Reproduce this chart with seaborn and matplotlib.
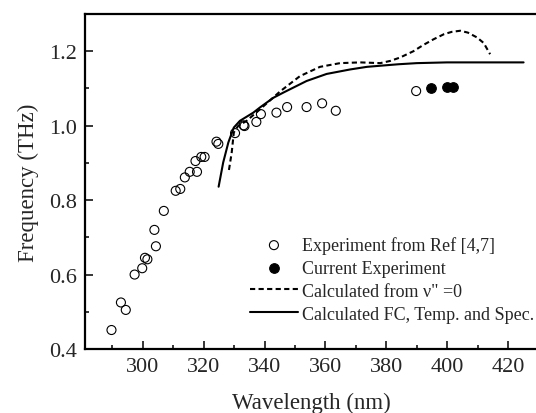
import numpy as np
import pandas as pd
import matplotlib
matplotlib.use("Agg")
import matplotlib.pyplot as plt
import seaborn as sns

# --- data ---
ref_wl = [289.7, 292.8, 294.4, 297.3, 299.8, 300.7, 301.5, 303.8, 304.3, 306.9,
          310.8, 312.3, 313.8, 315.4, 317.3, 317.8, 319.2, 320.3, 324.2, 324.8,
          330.3, 333.1, 333.4, 337.3, 338.8, 343.9, 347.4, 353.8, 358.9, 363.4, 389.8]
ref_freq = [0.451, 0.525, 0.505, 0.600, 0.617, 0.645, 0.641, 0.720, 0.676, 0.771,
            0.825, 0.830, 0.861, 0.876, 0.905, 0.876, 0.916, 0.916, 0.957, 0.951,
            0.980, 1.001, 0.999, 1.010, 1.031, 1.035, 1.050, 1.050, 1.060, 1.040, 1.093]

cur_wl = [394.8, 399.9, 401.9]
cur_freq = [1.101, 1.104, 1.104]

v0_wl = [328.3, 329.2, 329.9, 331.3, 334.1, 338.5, 345.1, 351.6, 358.2, 364.8,
         371.4, 378.0, 381.3, 384.5, 388.9, 392.0, 395.5, 399.0, 401.5, 404.3,
         406.8, 409.8, 412.0, 414.1]
v0_freq = [0.881, 0.928, 0.982, 0.999, 1.013, 1.044, 1.092, 1.133, 1.158, 1.168,
           1.170, 1.168, 1.174, 1.183, 1.200, 1.216, 1.232, 1.246, 1.252, 1.255,
           1.250, 1.237, 1.222, 1.192]

fc_wl = [324.9, 326.4, 328.1, 329.9, 331.9, 336.3, 338.5, 342.9, 346.2, 353.8,
         360.4, 368.1, 373.6, 378.0, 384.0, 390.0, 399.9, 410.0, 425.1]
fc_freq = [0.836, 0.901, 0.955, 0.995, 1.013, 1.035, 1.049, 1.075, 1.089, 1.120,
           1.139, 1.151, 1.158, 1.161, 1.165, 1.168, 1.170, 1.170, 1.170]

labels = ["Experiment from Ref [4,7]", "Current Experiment",
          'Calculated from \u03bd" =0', "Calculated FC, Temp. and Spec."]

# --- style ---
sns.set_style("ticks")
plt.rcParams["font.family"] = ["Liberation Serif", "DejaVu Serif"]
plt.rcParams["mathtext.fontset"] = "stix"

W, H = 536, 414
fig = plt.figure(figsize=(W / 100, H / 100), dpi=100)
left, right, top, bottom = 85, 538.5, 15, 350
ax = fig.add_axes([left / W, (H - bottom) / H, (right - left) / W, (bottom - top) / H])

sns.scatterplot(x=ref_wl, y=ref_freq, ax=ax, marker="o", s=42,
                facecolor="none", edgecolor="black", linewidth=0.8,
                label=labels[0], zorder=3)
sns.scatterplot(x=cur_wl, y=cur_freq, ax=ax, marker="o", s=48,
                color="black", edgecolor="black", linewidth=0.8,
                label=labels[1], zorder=3)
sns.lineplot(x=v0_wl, y=v0_freq, ax=ax, sort=False, estimator=None,
             color="black", linewidth=1.5, linestyle=(0, (2.5, 1.6)),
             label=labels[2])
sns.lineplot(x=fc_wl, y=fc_freq, ax=ax, sort=False, estimator=None,
             color="black", linewidth=1.5, label=labels[3])

ax.set_xlim(281, 430)
ax.set_ylim(0.4, 1.3)
ax.set_xticks([300, 320, 340, 360, 380, 400, 420])
ax.set_xticks(np.arange(290, 431, 10), minor=True)
ax.set_yticks([0.4, 0.6, 0.8, 1.0, 1.2])
ax.set_yticks(np.arange(0.5, 1.31, 0.1), minor=True)
ax.set_yticklabels(["0.4", "0.6", "0.8", "1.0", "1.2"])

ax.tick_params(which="both", direction="in", labelsize=16, width=1.3,
               top=False, right=False)
ax.tick_params(which="major", length=5.5, pad=6)
ax.tick_params(which="minor", length=3)
for s in ax.spines.values():
    s.set_linewidth(1.6)
    s.set_color("black")

ax.set_xlabel("Wavelength (nm)", fontsize=16.5, labelpad=11)
ax.set_ylabel("Frequency (THz)", fontsize=16.5, labelpad=7)

handles, labs = ax.get_legend_handles_labels()
order = [labs.index(l) for l in labels]
ax.legend([handles[i] for i in order], [labs[i] for i in order],
          loc="upper left", bbox_to_anchor=(250 / W, (H - 237) / H),
          bbox_transform=fig.transFigure, frameon=False, fontsize=13,
          borderpad=0, borderaxespad=0, handlelength=2.65, handletextpad=0.25,
          labelspacing=0.33)

fig.savefig("out.png", dpi=100)
